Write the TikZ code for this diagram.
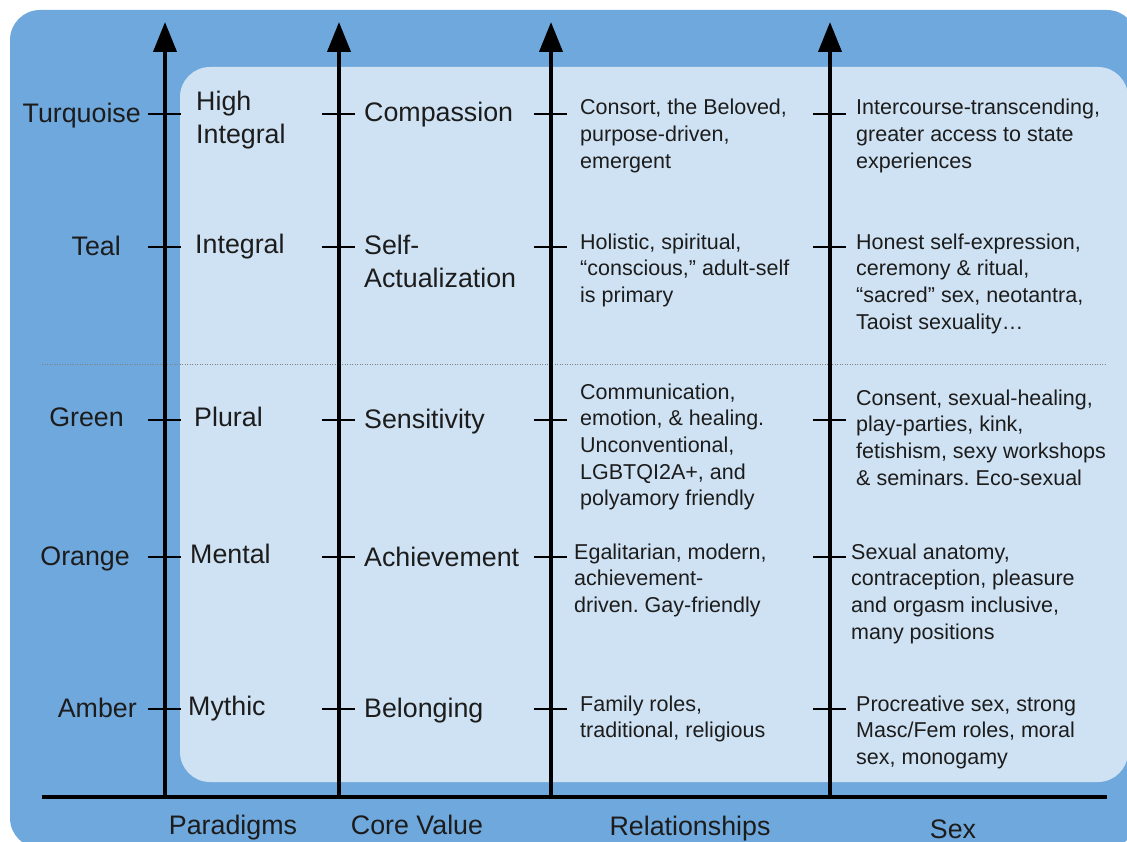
\documentclass[tikz,border=0pt]{standalone}
\usepackage{fontspec}
\setmainfont{Liberation Sans}
\usetikzlibrary{arrows.meta}
\definecolor{outerblue}{HTML}{6FA8DC}
\definecolor{innerblue}{HTML}{CFE2F3}
\definecolor{ink}{HTML}{1C1C1C}
\frenchspacing
\begin{document}
\begin{tikzpicture}[x=1pt,y=-1pt,
  big/.style={font=\fontsize{26.8}{32.5}\selectfont, text=ink, inner sep=0pt, align=left},
  small/.style={font=\fontsize{21.5}{26.7}\selectfont, text=ink, inner sep=0pt, align=left},
  axisline/.style={line width=4pt, -{Triangle[length=30pt,width=23pt]}},
  tickline/.style={line width=2pt},
  sepline/.style={draw=gray, line width=1pt, dash pattern=on 1pt off 1.5pt},
]
\useasboundingbox (0,0) rectangle (1127,842);
\begin{scope}
\clip (0,0) rectangle (1127,842);
\fill[outerblue, rounded corners=30pt] (10,10) rectangle (1137,848);
\fill[innerblue, rounded corners=30pt] (180,67) rectangle (1128,782);
\end{scope}

% separator
\coordinate (sepL) at (42,364);
\coordinate (sepR) at (1105,364);
\draw[sepline] (sepL) -- (sepR);

% baseline
\coordinate (baseL) at (42,797);
\coordinate (baseR) at (1107,797);
\draw[line width=4pt] (baseL) -- (baseR);

% axes
\foreach \n/\x in {a/165,b/339,c/551,d/830}{
  \coordinate (\n bot) at (\x,799);
  \coordinate (\n top) at (\x,22);
  \draw[axisline] (\n bot) -- (\n top);
  \foreach \y in {114,247,420,557,709}{
    \draw[tickline] (\x-17,\y) -- (\x+16,\y);
  }
}

% level labels
\node[big, anchor=base east] (turq) at (141,123) {Turquoise};
\node[big, anchor=base east] (teal) at (121,256) {Teal};
\node[big, anchor=base east] (green) at (124,426) {Green};
\node[big, anchor=base east] (orange) at (130,565) {Orange};
\node[big, anchor=base east] (amber) at (137,717) {Amber};

% paradigms
\node[big, anchor=base west] (p1) at (196,143.5) {High\\Integral};
\node[big, anchor=base west] (p2) at (195,254) {Integral};
\node[big, anchor=base west] (p3) at (194,426) {Plural};
\node[big, anchor=base west] (p4) at (190,563) {Mental};
\node[big, anchor=base west] (p5) at (188,715) {Mythic};

% core values
\node[big, anchor=base west] (c1) at (364,122) {Compassion};
\node[big, anchor=base west] (c2) at (364,287.5) {Self-\\Actualization};
\node[big, anchor=base west] (c3) at (364,428) {Sensitivity};
\node[big, anchor=base west] (c4) at (364,566) {Achievement};
\node[big, anchor=base west] (c5) at (364,717) {Belonging};

% relationships
\node[small, anchor=base west] (r1) at (580,168.4) {Consort, the Beloved,\\purpose-driven,\\emergent};
\node[small, anchor=base west] (r2) at (580,302.4) {Holistic, spiritual,\\“conscious,” adult-self\\is primary};
\node[small, anchor=base west] (r3) at (580,505.8) {Communication,\\emotion, \& healing.\\Unconventional,\\LGBTQI2A+, and\\polyamory friendly};
\node[small, anchor=base west] (r4) at (574,612.4) {Egalitarian, modern,\\achievement-\\driven. Gay-friendly};
\node[small, anchor=base west] (r5) at (580,737.7) {Family roles,\\traditional, religious};

% sex
\node[small, anchor=base west] (s1) at (856,168.4) {Intercourse-transcending,\\greater access to state\\experiences};
\node[small, anchor=base west] (s2) at (856,329.1) {Honest self-expression,\\ceremony \& ritual,\\“sacred” sex, neotantra,\\Taoist sexuality…};
\node[small, anchor=base west] (s3) at (856,485.1) {Consent, sexual-healing,\\play-parties, kink,\\fetishism, sexy workshops\\\& seminars. Eco-sexual};
\node[small, anchor=base west] (s4) at (851,639.1) {Sexual anatomy,\\contraception, pleasure\\and orgasm inclusive,\\many positions};
\node[small, anchor=base west] (s5) at (856,764.4) {Procreative sex, strong\\Masc/Fem roles, moral\\sex, monogamy};

% bottom labels
\node[big, anchor=base] (lp) at (233,834) {Paradigms};
\node[big, anchor=base] (lc) at (417,834) {Core Value};
\node[big, anchor=base] (lr) at (690,835) {Relationships};
\node[big, anchor=base] (ls) at (953,838) {Sex};
\end{tikzpicture}
\end{document}
